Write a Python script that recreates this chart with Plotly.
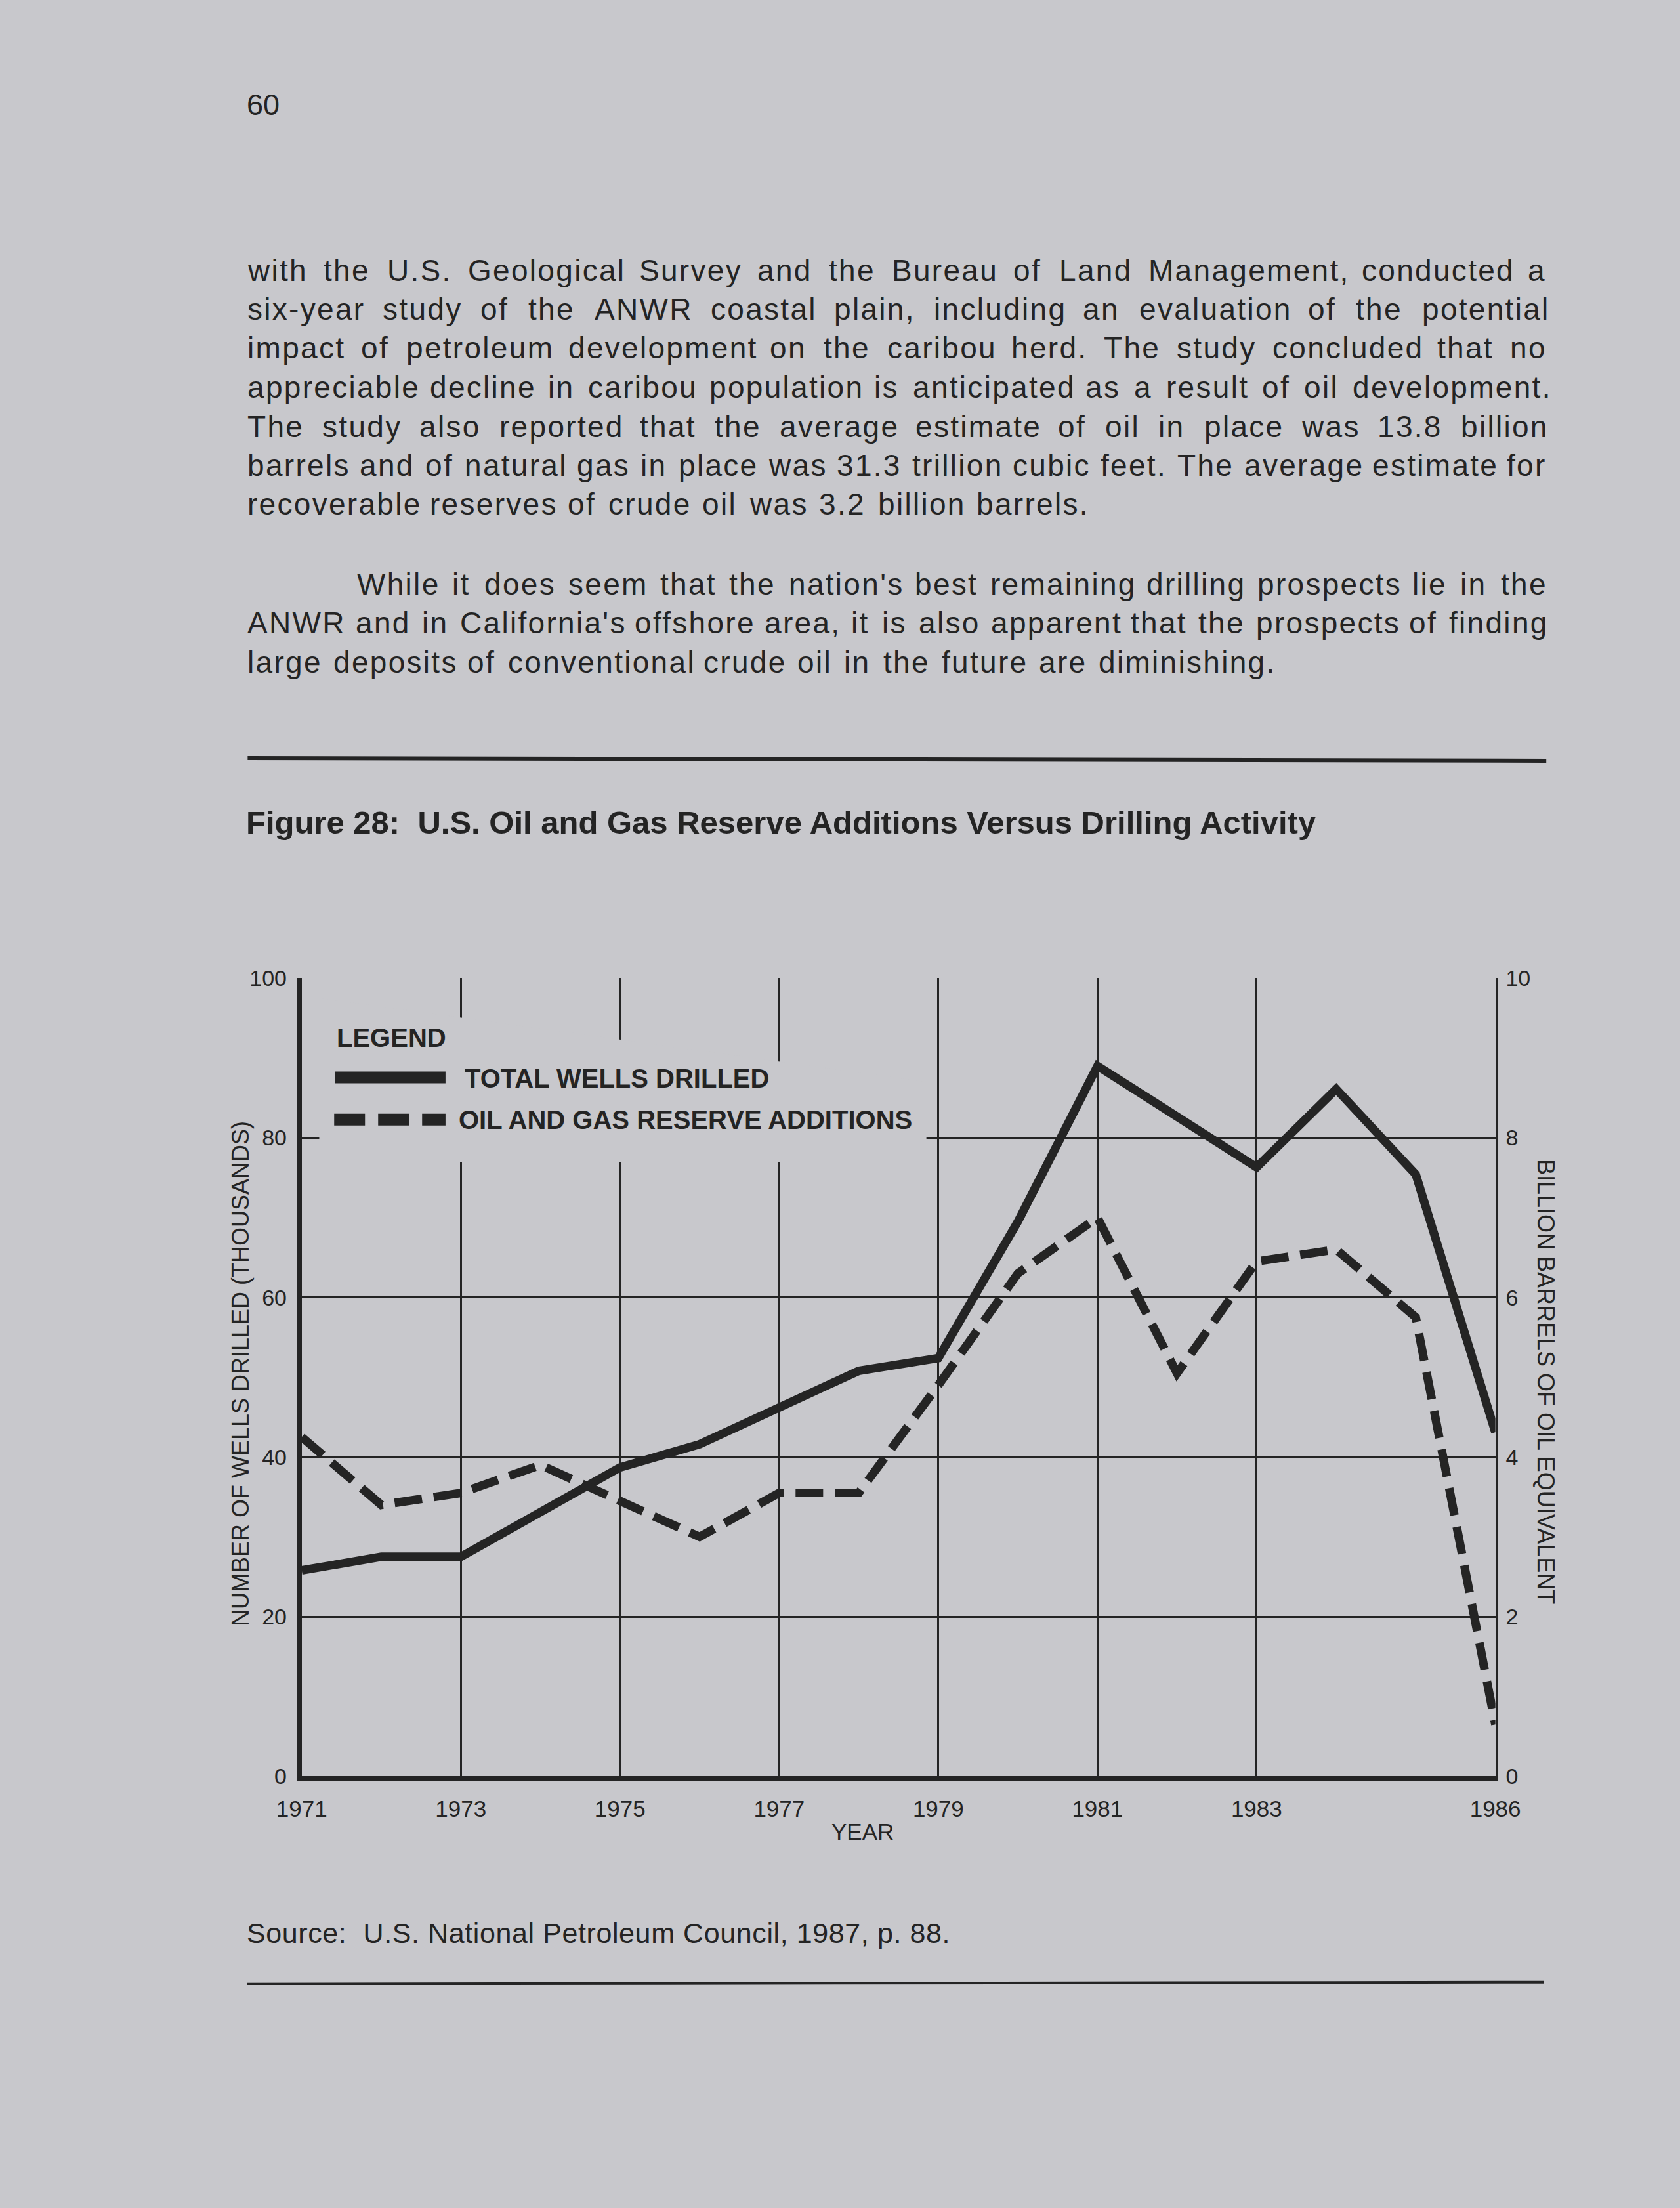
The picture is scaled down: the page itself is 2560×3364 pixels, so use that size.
import plotly.graph_objects as go

# ---------------- data ----------------
YEARS = list(range(1971, 1987))
TOTAL_WELLS = [25.8, 27.5, 27.5, 33.0, 38.7, 41.6, 46.3, 50.8, 52.4, 69.5,
               89.0, 82.6, 76.3, 86.1, 75.4, 43.1]          # thousands (left axis)
RESERVE_ADDITIONS = [4.25, 3.4, 3.55, 3.9, 3.45, 3.0, 3.55, 3.55, 4.9, 6.3,
                     7.0, 5.05, 6.45, 6.6, 5.75, 0.65]        # billion BOE (right axis)
X_TICKS = [1971, 1973, 1975, 1977, 1979, 1981, 1983, 1986]
LEFT_TICKS = [0, 20, 40, 60, 80, 100]
RIGHT_TICKS = [0, 2, 4, 6, 8, 10]
SERIES_NAMES = ["TOTAL WELLS DRILLED", "OIL AND GAS RESERVE ADDITIONS"]

PARA1 = [
    "with the U.S. Geological Survey and the Bureau of Land Management, conducted a",
    "six-year study of the ANWR coastal plain, including an evaluation of the potential",
    "impact of petroleum development on the caribou herd. The study concluded that no",
    "appreciable decline in caribou population is anticipated as a result of oil development.",
    "The study also reported that the average estimate of oil in place was 13.8 billion",
    "barrels and of natural gas in place was 31.3 trillion cubic feet. The average estimate for",
    "recoverable reserves of crude oil was 3.2 billion barrels.",
]
PARA2 = [
    "While it does seem that the nation's best remaining drilling prospects lie in the",
    "ANWR and in California's offshore area, it is also apparent that the prospects of finding",
    "large deposits of conventional crude oil in the future are diminishing.",
]
PAGE_NO = "60"
FIG_TITLE = "Figure 28:\u00a0 U.S. Oil and Gas Reserve Additions Versus Drilling Activity"
SOURCE = "Source:\u00a0 U.S. National Petroleum Council, 1987, p. 88."
LEFT_TITLE = "NUMBER OF WELLS DRILLED (THOUSANDS)"
RIGHT_TITLE = "BILLION BARRELS OF OIL EQUIVALENT"
X_TITLE = "YEAR"

# ---------------- style ----------------
W, H = 2560, 3364
BG = "rgb(200,200,204)"
INK = "#242424"
FONT = "Liberation Sans, Arial, Helvetica, sans-serif"

# Helvetica/Arial advance widths (per 1000 em) for justification
HELV = {' ': 278, '!': 278, "'": 191, '(': 333, ')': 333, ',': 278, '-': 333, '.': 278,
        ':': 278, ';': 278, '?': 556,
        'A': 667, 'B': 667, 'C': 722, 'D': 722, 'E': 667, 'F': 611, 'G': 778, 'H': 722,
        'I': 278, 'J': 500, 'K': 667, 'L': 556, 'M': 833, 'N': 722, 'O': 778, 'P': 667,
        'Q': 778, 'R': 722, 'S': 667, 'T': 611, 'U': 722, 'V': 667, 'W': 944, 'X': 667,
        'Y': 667, 'Z': 611,
        'a': 556, 'b': 556, 'c': 500, 'd': 556, 'e': 556, 'f': 278, 'g': 556, 'h': 556,
        'i': 222, 'j': 222, 'k': 500, 'l': 222, 'm': 833, 'n': 556, 'o': 556, 'p': 556,
        'q': 556, 'r': 333, 's': 500, 't': 278, 'u': 556, 'v': 500, 'w': 722, 'x': 500,
        'y': 500, 'z': 500}
for d in "0123456789":
    HELV[d] = 556

TRACK = 2.3  # letter spacing of the body text (px)


def tw(s, fs, track=0.0):
    return sum(HELV.get(c, 556) for c in s) * fs / 1000.0 + track * len(s)


def px(x):
    return x / W


def py(y):
    return 1 - y / H


annotations = []
shapes = []


def text(t, x, y, size, xanchor="left", bold=False, angle=0, track=0.0):
    if track:
        t = f'<span style="letter-spacing:{track}px">{t}</span>'
    annotations.append(dict(
        text=f"<b>{t}</b>" if bold else t, x=px(x), y=py(y), xref="paper", yref="paper",
        xanchor=xanchor, yanchor="middle", showarrow=False, textangle=angle,
        borderpad=0, borderwidth=0, font=dict(size=size, color=INK, family=FONT)))


def justified(line, x0, x1, yc, fs):
    words = line.split(" ")
    widths = [tw(w, fs, TRACK) for w in words]
    gap = (x1 - x0 - sum(widths)) / max(len(words) - 1, 1)
    x = x0
    for w, wd in zip(words, widths):
        text(w, x, yc, fs, track=TRACK)
        x += wd + gap


BODY_FS = 46
L, R = 349, 2389
p1_y = [397, 457, 517, 578, 638, 698, 758]
for i, line in enumerate(PARA1):
    right = R if i < len(PARA1) - 1 else 1666
    justified(line, L, right, p1_y[i], BODY_FS)
p2_y = [881, 941, 1001]
for i, line in enumerate(PARA2):
    left = 521 if i == 0 else L
    right = R if i < len(PARA2) - 1 else 1957
    justified(line, left, right, p2_y[i], BODY_FS)

text(PAGE_NO, 348, 142, 45)
text(FIG_TITLE, 347, 1248, 49, bold=True)
text(SOURCE, 348, 2959, 43, track=0.6)

# rules
shapes.append(dict(type="line", xref="paper", yref="paper", x0=px(349), x1=px(2390),
                   y0=py(1149), y1=py(1153), line=dict(color=INK, width=6)))
shapes.append(dict(type="line", xref="paper", yref="paper", x0=px(348), x1=px(2386),
                   y0=py(3038), y1=py(3035), line=dict(color=INK, width=4)))

# ---------------- chart ----------------
X0, X1 = 434, 2310
Y0, Y100 = 2718, 1488

fig = go.Figure()
fig.add_trace(go.Scatter(x=YEARS, y=TOTAL_WELLS, name=SERIES_NAMES[0], mode="lines",
                         line=dict(color=INK, width=13), yaxis="y", showlegend=False))
fig.add_trace(go.Scatter(x=YEARS, y=RESERVE_ADDITIONS, name=SERIES_NAMES[1], mode="lines",
                         line=dict(color=INK, width=13, dash="42px,18px"), yaxis="y2",
                         showlegend=False))

# legend area masks the grid
shapes.append(dict(type="path", xref="x", yref="y", layer="between",
                   path="M 1971.22,97.5 L 1978.85,87.0 L 1978.85,76.9 L 1971.22,76.9 Z",
                   fillcolor=BG, line=dict(width=0)))

# manual legend
text("LEGEND", 489, 1580, 40, bold=True)
shapes.append(dict(type="line", xref="paper", yref="paper", x0=px(486), x1=px(660),
                   y0=py(1641), y1=py(1641), line=dict(color=INK, width=18)))
text(SERIES_NAMES[0], 690, 1643, 40, bold=True)
shapes.append(dict(type="line", xref="paper", yref="paper", x0=px(485), x1=px(660),
                   y0=py(1706), y1=py(1706), line=dict(color=INK, width=18, dash="47px,20px")))
text(SERIES_NAMES[1], 681, 1706, 40, bold=True)

# axis titles
text(LEFT_TITLE, 338, 2098, 36, xanchor="center", angle=-90)
text(RIGHT_TITLE, 2390, 2110, 36, xanchor="center", angle=90)
text(X_TITLE, 1316, 2803, 35, xanchor="center")

fig.update_layout(
    width=W, height=H,
    margin=dict(l=0, r=0, t=0, b=0),
    paper_bgcolor=BG, plot_bgcolor=BG,
    font=dict(family=FONT, color=INK),
    showlegend=False,
    xaxis=dict(domain=[px(X0), px(X1)], range=[1971, 1986], tickvals=X_TICKS,
               ticktext=[str(v) for v in X_TICKS], showgrid=True, gridcolor=INK,
               gridwidth=2.5, zeroline=False, showline=True, linecolor=INK, linewidth=8,
               ticks="", ticklabelstandoff=12, tickfont=dict(size=35, color=INK, family=FONT)),
    yaxis=dict(domain=[py(Y0), py(Y100)], range=[0, 100], tickvals=LEFT_TICKS,
               showgrid=True, gridcolor=INK, gridwidth=2.5, zeroline=False,
               showline=True, linecolor=INK, linewidth=8, ticks="", ticklabelstandoff=8,
               tickfont=dict(size=34, color=INK, family=FONT)),
    yaxis2=dict(overlaying="y", side="right", anchor="x", range=[0, 10],
                tickvals=RIGHT_TICKS, showgrid=False, zeroline=False, showline=True,
                linecolor=INK, linewidth=3, ticks="", ticklabelstandoff=6,
                tickfont=dict(size=34, color=INK, family=FONT)),
    annotations=annotations,
    shapes=shapes,
)

fig.write_html("out.html",
               config={"displayModeBar": False},
               post_script="document.body.style.margin='0px';"
                           "document.body.style.overflow='hidden';")
